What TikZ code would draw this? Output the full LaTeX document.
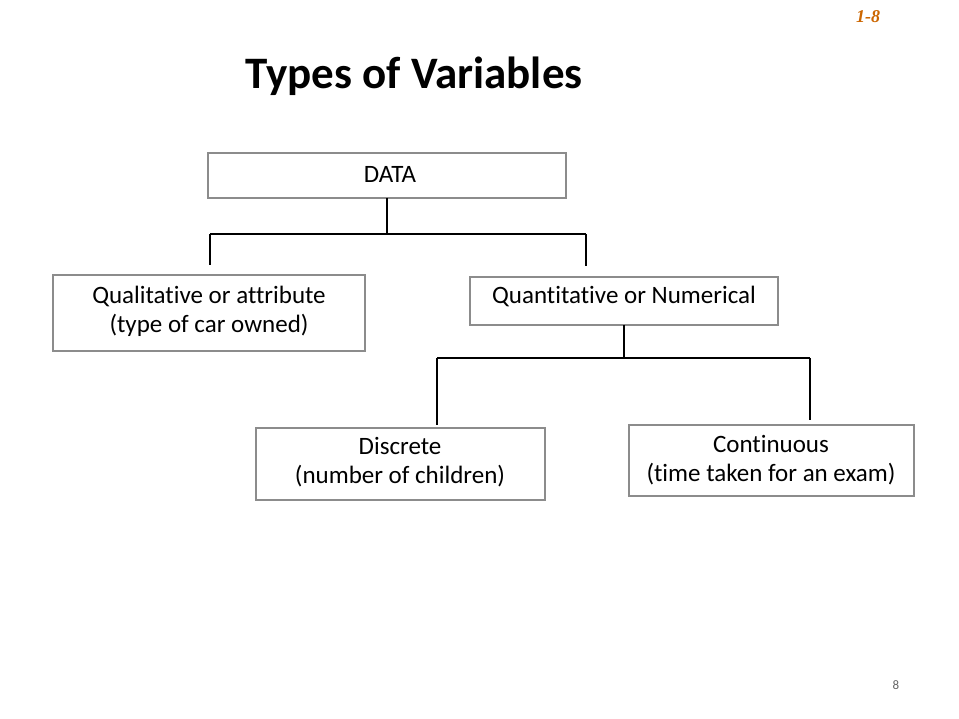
\documentclass[tikz,border=0pt]{standalone}
\usepackage{fontspec}
\setmainfont{Carlito}[Ligatures=NoCommon]
\newfontfamily\serifb{Liberation Serif}
\begin{document}
\begin{tikzpicture}[x=1pt,y=-1pt,
  box/.style={draw=gray!90,line width=2.2pt,inner sep=0pt},
  lbl/.style={font=\fontsize{25}{29}\selectfont,align=center},
  conn/.style={draw=black,line width=2pt}]
\useasboundingbox[fill=white] (0,0) rectangle (959,719);
\node[font=\serifb\bfseries\itshape\fontsize{18}{18}\selectfont,text=orange!80!black] (pg) at (868,17) {1-8};
\node[font=\bfseries\fontsize{45}{45}\selectfont] (title) at (414,76) {Types of Variables};
\draw[box] (208,153) rectangle (566,198);
\node[lbl] (data) at (390,174) {DATA};
\coordinate (d) at (387,198);
\draw[box] (53,275) rectangle (365,351);
\node[lbl] (qual) at (209,311) {Qualitative or attribute\\(type of car owned)};
\draw[box] (470,277) rectangle (778,325);
\node[lbl] (quant) at (624,296) {Quantitative or Numerical};
\coordinate (q) at (624,325);
\draw[box] (256,428) rectangle (545,500);
\node[lbl] (disc) at (400,462) {Discrete\\(number of children)};
\draw[box] (629,425) rectangle (914,496);
\node[lbl] (cont) at (771,460) {Continuous\\(time taken for an exam)};
\node[font=\fontsize{13}{13}\selectfont,text=gray!80!black] (num) at (896,685) {8};
\coordinate (a1) at (387,234);
\coordinate (l1) at (210,234);
\coordinate (r1) at (586,234);
\coordinate (l1e) at (210,265);
\coordinate (r1e) at (586,266);
\draw[conn] (d) -- (a1);
\draw[conn] (l1) -- (r1);
\draw[conn] (l1) -- (l1e);
\draw[conn] (r1) -- (r1e);
\coordinate (a2) at (624,358);
\coordinate (l2) at (437,358);
\coordinate (r2) at (810,358);
\coordinate (l2e) at (437,425);
\coordinate (r2e) at (810,420);
\draw[conn] (q) -- (a2);
\draw[conn] (l2) -- (r2);
\draw[conn] (l2) -- (l2e);
\draw[conn] (r2) -- (r2e);
\end{tikzpicture}
\end{document}
